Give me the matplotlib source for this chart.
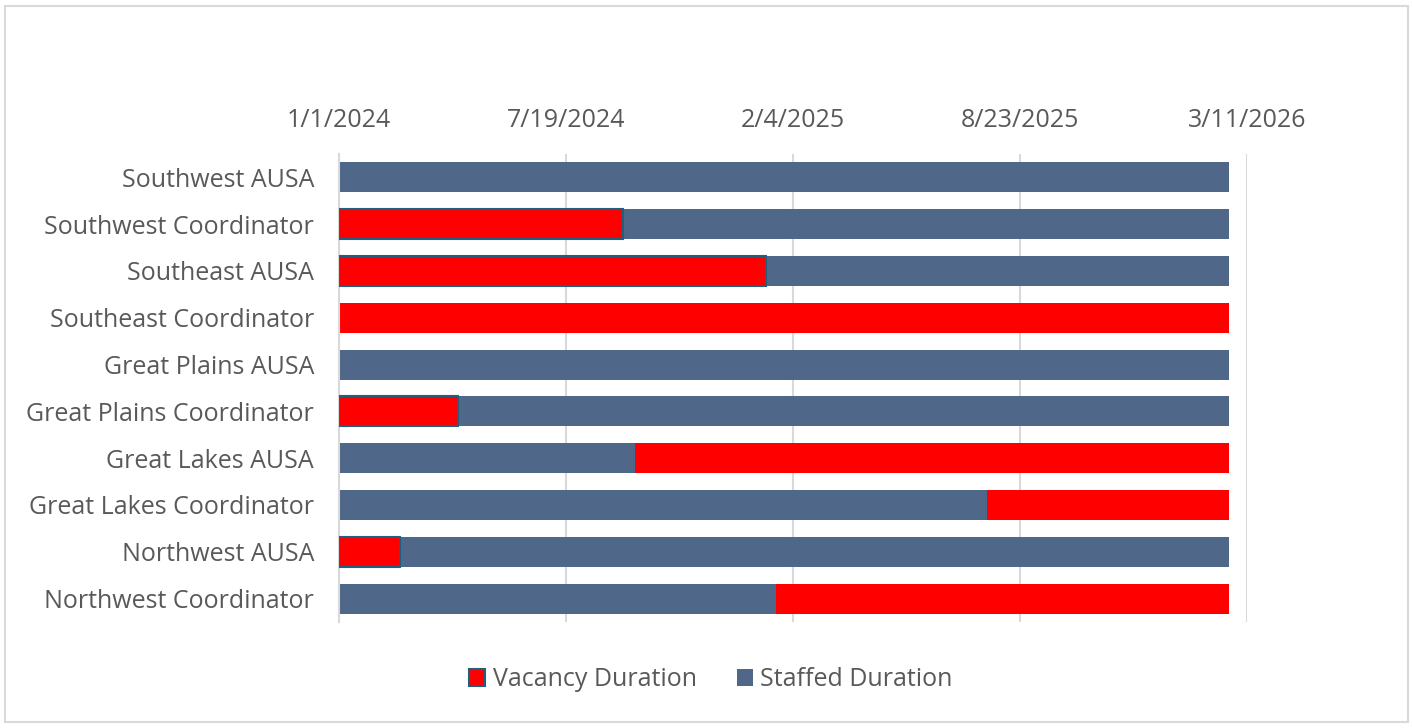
import numpy as np
import matplotlib.pyplot as plt
import matplotlib.dates as mdates
from matplotlib.patches import Rectangle, Patch
from datetime import date, timedelta

plt.rcParams['font.family'] = ['Open Sans', 'DejaVu Sans']

# positions, top to bottom
positions = ["Southwest AUSA", "Southwest Coordinator", "Southeast AUSA",
             "Southeast Coordinator", "Great Plains AUSA", "Great Plains Coordinator",
             "Great Lakes AUSA", "Great Lakes Coordinator", "Northwest AUSA",
             "Northwest Coordinator"]
# status at start of window: V = vacant, S = staffed
start_status = ["S", "V", "V", "V", "S", "V", "S", "S", "V", "S"]
# date the status flipped (None = never)
change_dates = [None, date(2024, 9, 7), date(2025, 1, 11), None, None,
                date(2024, 4, 15), date(2024, 9, 18), date(2025, 7, 25),
                date(2024, 2, 24), date(2025, 1, 20)]
window_start = date(2024, 1, 1)
window_end = date(2026, 2, 23)

RED = "#ff0000"
BLUE = "#4f6889"
EDGE = "#215f80"
GRID = "#d9d9d9"
TXT = "#595959"
FS = 18

fig = plt.figure(figsize=(14.13, 7.28), dpi=100)
ax = fig.add_axes([339/1413, 1-622/728, (1247-339)/1413, (622-154)/728])

h = 0.64
y = np.arange(len(positions))
for i, name in enumerate(positions):
    s = mdates.date2num(window_start)
    e = mdates.date2num(window_end)
    st = start_status[i]
    other = "S" if st == "V" else "V"
    cd = change_dates[i]
    segs = [(s, e, st, False)] if cd is None else \
        [(s, mdates.date2num(cd), st, True), (mdates.date2num(cd), e, other, False)]
    for a, b, kind, first in segs:
        col = RED if kind == "V" else BLUE
        if kind == "V" and first:
            ax.barh(y[i], b - a, left=a, height=h, color=col, edgecolor=EDGE,
                    linewidth=1.5, zorder=3)
        else:
            ax.barh(y[i], b - a, left=a, height=h, color=col, linewidth=0, zorder=2)

ticks = [window_start + timedelta(days=200 * k) for k in range(5)]
ax.set_xticks([mdates.date2num(t) for t in ticks])
ax.set_xticklabels([f"{t.month}/{t.day}/{t.year}" for t in ticks])
ax.set_xlim(mdates.date2num(ticks[0]), mdates.date2num(ticks[-1]))
ax.xaxis.tick_top()
ax.tick_params(axis='x', length=0, pad=15, labelsize=FS, labelcolor=TXT)
ax.set_ylim(len(positions) - 0.5, -0.5)
ax.set_yticks(y)
ax.set_yticklabels(positions)
ax.tick_params(axis='y', length=0, pad=18, labelsize=FS, labelcolor=TXT)
ax.grid(axis='x', color=GRID, linewidth=1.5, zorder=0)
for sp in ["top", "right", "bottom"]:
    ax.spines[sp].set_visible(False)
ax.spines["left"].set_color(GRID)
ax.spines["left"].set_linewidth(1.5)

handles = [Patch(facecolor=RED, edgecolor=EDGE, linewidth=1.5, label="Vacancy Duration"),
           Patch(facecolor=BLUE, label="Staffed Duration")]
fig.legend(handles=handles, loc="center", bbox_to_anchor=(711/1413, 1-680/728), ncol=2,
           frameon=False, fontsize=FS, labelcolor=TXT, handlelength=0.64, handleheight=0.64,
           handletextpad=0.3, columnspacing=1.6)

fig.patches.append(Rectangle((5/1413, 6/728), 1403/1413, 716/728, transform=fig.transFigure,
                             fill=False, edgecolor=GRID, linewidth=1.5))

fig.savefig("out.png", dpi=100)
